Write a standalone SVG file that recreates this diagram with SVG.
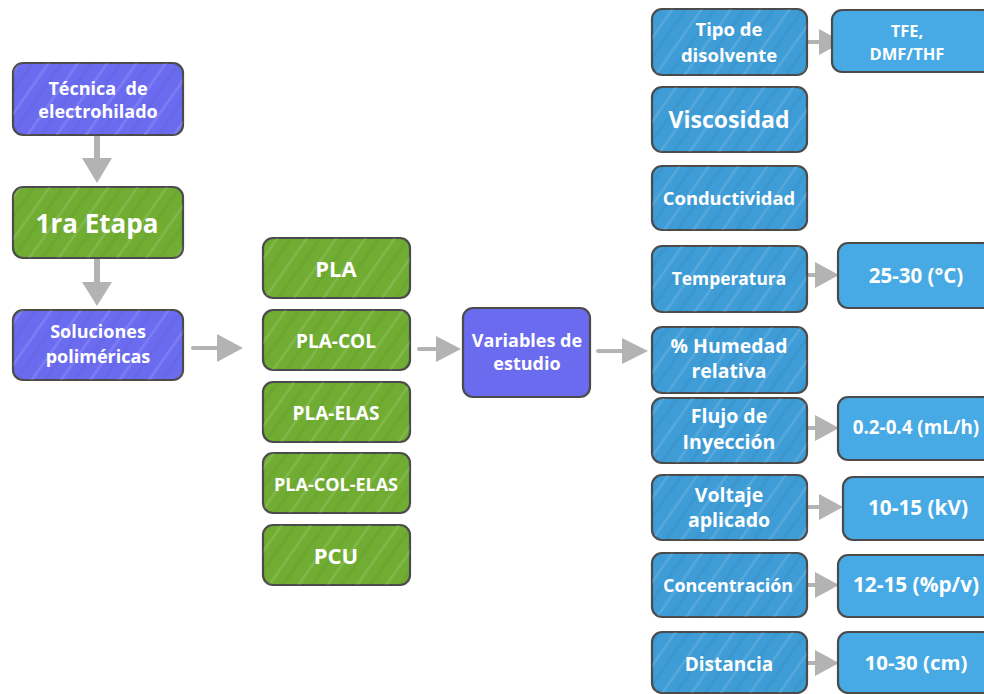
<svg xmlns="http://www.w3.org/2000/svg" width="984" height="694" viewBox="0 0 984 694">
<defs>
<pattern id="hatch" width="24" height="24" patternUnits="userSpaceOnUse" patternTransform="rotate(-55)">
<rect width="24" height="24" fill="none"/>
<line x1="0" y1="4" x2="24" y2="4" stroke="#ffffff" stroke-opacity="0.13" stroke-width="2.5"/>
<line x1="0" y1="15" x2="24" y2="15" stroke="#000000" stroke-opacity="0.04" stroke-width="3"/>
</pattern>
<style>
.box{stroke:#4b4b4b;stroke-width:2.2}
.pur{fill:#6b6bf0}
.grn{fill:#70ad32}
.blu{fill:#3e9cd6}
.val{fill:#47aae4}
.tx{font-family:"Open Sans","Liberation Sans",sans-serif;font-weight:bold;fill:#ffffff;text-anchor:middle}
.sh{fill:url(#hatch);stroke:none}
.arr{stroke:#b3b3b3;stroke-linecap:round;fill:none}
.ah{fill:#b3b3b3}
</style>
</defs>
<rect width="984" height="694" fill="#ffffff"/>

<g id="connectors">
<line class="arr" x1="97" y1="137" x2="97" y2="162" stroke-width="6"/>
<polygon class="ah" points="82,158 112,158 97,183"/>
<line class="arr" x1="97" y1="260" x2="97" y2="285" stroke-width="6"/>
<polygon class="ah" points="82,282 112,282 97,306"/>
<line class="arr" x1="193" y1="348" x2="222" y2="348" stroke-width="4"/>
<polygon class="ah" points="217,334 243,348 217,362"/>
<line class="arr" x1="419" y1="349" x2="440" y2="349" stroke-width="4"/>
<polygon class="ah" points="436,336 461,349 436,362"/>
<line class="arr" x1="598" y1="351" x2="625" y2="351" stroke-width="4"/>
<polygon class="ah" points="622,338 648,351 622,364"/>
<line class="arr" x1="794" y1="42" x2="822" y2="42" stroke-width="4"/>
<polygon class="ah" points="819,29 843,42 819,55"/>
<line class="arr" x1="794" y1="275" x2="818" y2="275" stroke-width="4"/>
<polygon class="ah" points="815,262 839,275 815,288"/>
<line class="arr" x1="794" y1="428" x2="818" y2="428" stroke-width="4"/>
<polygon class="ah" points="815,415 839,428 815,441"/>
<line class="arr" x1="794" y1="507" x2="822" y2="507" stroke-width="4"/>
<polygon class="ah" points="819,494 843,507 819,520"/>
<line class="arr" x1="794" y1="585" x2="818" y2="585" stroke-width="4"/>
<polygon class="ah" points="815,572 839,585 815,598"/>
<line class="arr" x1="794" y1="663" x2="818" y2="663" stroke-width="4"/>
<polygon class="ah" points="815,650 839,663 815,676"/>
</g>

<g id="tecnica">
<rect class="box pur" x="13" y="63" width="170" height="72" rx="10"/>
<rect class="sh" x="13" y="63" width="170" height="72" rx="10"/>
<text class="tx" x="98" y="95" font-size="18" xml:space="preserve">Técnica  de</text>
<text class="tx" x="98" y="118" font-size="18">electrohilado</text>
</g>
<g id="etapa">
<rect class="box grn" x="13" y="187" width="170" height="71" rx="10"/>
<rect class="sh" x="13" y="187" width="170" height="71" rx="10"/>
<text class="tx" x="97" y="233" font-size="26">1ra Etapa</text>
</g>
<g id="soluciones">
<rect class="box pur" x="13" y="310" width="170" height="70" rx="10"/>
<rect class="sh" x="13" y="310" width="170" height="70" rx="10"/>
<text class="tx" x="98" y="338" font-size="18">Soluciones</text>
<text class="tx" x="98" y="363" font-size="18">poliméricas</text>
</g>

<g id="pla">
<rect class="box grn" x="263" y="238" width="147" height="60" rx="10"/>
<rect class="sh" x="263" y="238" width="147" height="60" rx="10"/>
<text class="tx" x="336" y="277" font-size="22">PLA</text>
</g>
<g id="pla-col">
<rect class="box grn" x="263" y="310" width="147" height="60" rx="10"/>
<rect class="sh" x="263" y="310" width="147" height="60" rx="10"/>
<text class="tx" x="336" y="348" font-size="19">PLA-COL</text>
</g>
<g id="pla-elas">
<rect class="box grn" x="263" y="382" width="147" height="60" rx="10"/>
<rect class="sh" x="263" y="382" width="147" height="60" rx="10"/>
<text class="tx" x="336" y="420" font-size="19">PLA-ELAS</text>
</g>
<g id="pla-col-elas">
<rect class="box grn" x="263" y="453" width="147" height="60" rx="10"/>
<rect class="sh" x="263" y="453" width="147" height="60" rx="10"/>
<text class="tx" x="336" y="491" font-size="18">PLA-COL-ELAS</text>
</g>
<g id="pcu">
<rect class="box grn" x="263" y="525" width="147" height="60" rx="10"/>
<rect class="sh" x="263" y="525" width="147" height="60" rx="10"/>
<text class="tx" x="336" y="564" font-size="22">PCU</text>
</g>

<g id="variables">
<rect class="box pur" x="463" y="308" width="127" height="89" rx="10"/>
<text class="tx" x="527" y="347" font-size="18">Variables de</text>
<text class="tx" x="527" y="370" font-size="18">estudio</text>
</g>

<g id="tipo">
<rect class="box blu" x="652" y="9" width="155" height="66" rx="10"/>
<rect class="sh" x="652" y="9" width="155" height="66" rx="10"/>
<text class="tx" x="729" y="36" font-size="18.5">Tipo de</text>
<text class="tx" x="729" y="62" font-size="18.5">disolvente</text>
</g>
<g id="tfe">
<rect class="box val" x="832" y="10" width="160" height="62" rx="10"/>
<text class="tx" x="907" y="37" font-size="16.5">TFE,</text>
<text class="tx" x="907" y="60" font-size="16.5">DMF/THF</text>
</g>
<g id="viscosidad">
<rect class="box blu" x="652" y="87" width="155" height="65" rx="10"/>
<rect class="sh" x="652" y="87" width="155" height="65" rx="10"/>
<text class="tx" x="729" y="128" font-size="23">Viscosidad</text>
</g>
<g id="conductividad">
<rect class="box blu" x="652" y="166" width="155" height="64" rx="10"/>
<rect class="sh" x="652" y="166" width="155" height="64" rx="10"/>
<text class="tx" x="729" y="205" font-size="18.4">Conductividad</text>
</g>
<g id="temperatura">
<rect class="box blu" x="652" y="246" width="155" height="66" rx="10"/>
<rect class="sh" x="652" y="246" width="155" height="66" rx="10"/>
<text class="tx" x="729" y="285" font-size="17.4">Temperatura</text>
</g>
<g id="temp-val">
<rect class="box val" x="838" y="243" width="154" height="65" rx="10"/>
<text class="tx" x="916" y="283" font-size="20.5">25-30 (°C)</text>
</g>
<g id="humedad">
<rect class="box blu" x="652" y="327" width="155" height="66" rx="10"/>
<rect class="sh" x="652" y="327" width="155" height="66" rx="10"/>
<text class="tx" x="729" y="353" font-size="19.4">% Humedad</text>
<text class="tx" x="729" y="378" font-size="19.4">relativa</text>
</g>
<g id="flujo">
<rect class="box blu" x="652" y="398" width="155" height="65" rx="10"/>
<rect class="sh" x="652" y="398" width="155" height="65" rx="10"/>
<text class="tx" x="729" y="423" font-size="19.5">Flujo de</text>
<text class="tx" x="729" y="449" font-size="19.5">Inyección</text>
</g>
<g id="flujo-val">
<rect class="box val" x="838" y="397" width="154" height="63" rx="10"/>
<text class="tx" x="916" y="434" font-size="18.8">0.2-0.4 (mL/h)</text>
</g>
<g id="voltaje">
<rect class="box blu" x="652" y="475" width="155" height="65" rx="10"/>
<rect class="sh" x="652" y="475" width="155" height="65" rx="10"/>
<text class="tx" x="729" y="502" font-size="19.5">Voltaje</text>
<text class="tx" x="729" y="527" font-size="19.5">aplicado</text>
</g>
<g id="voltaje-val">
<rect class="box val" x="843" y="477" width="149" height="63" rx="10"/>
<text class="tx" x="918" y="515" font-size="20.8">10-15 (kV)</text>
</g>
<g id="concentracion">
<rect class="box blu" x="652" y="553" width="155" height="64" rx="10"/>
<rect class="sh" x="652" y="553" width="155" height="64" rx="10"/>
<text class="tx" x="728" y="592" font-size="17.9">Concentración</text>
</g>
<g id="concentracion-val">
<rect class="box val" x="838" y="555" width="154" height="62" rx="10"/>
<text class="tx" x="916" y="592" font-size="20.8">12-15 (%p/v)</text>
</g>
<g id="distancia">
<rect class="box blu" x="652" y="632" width="155" height="61" rx="10"/>
<rect class="sh" x="652" y="632" width="155" height="61" rx="10"/>
<text class="tx" x="729" y="671" font-size="19">Distancia</text>
</g>
<g id="distancia-val">
<rect class="box val" x="838" y="632" width="154" height="61" rx="10"/>
<text class="tx" x="916" y="670" font-size="20.4">10-30 (cm)</text>
</g>
</svg>
